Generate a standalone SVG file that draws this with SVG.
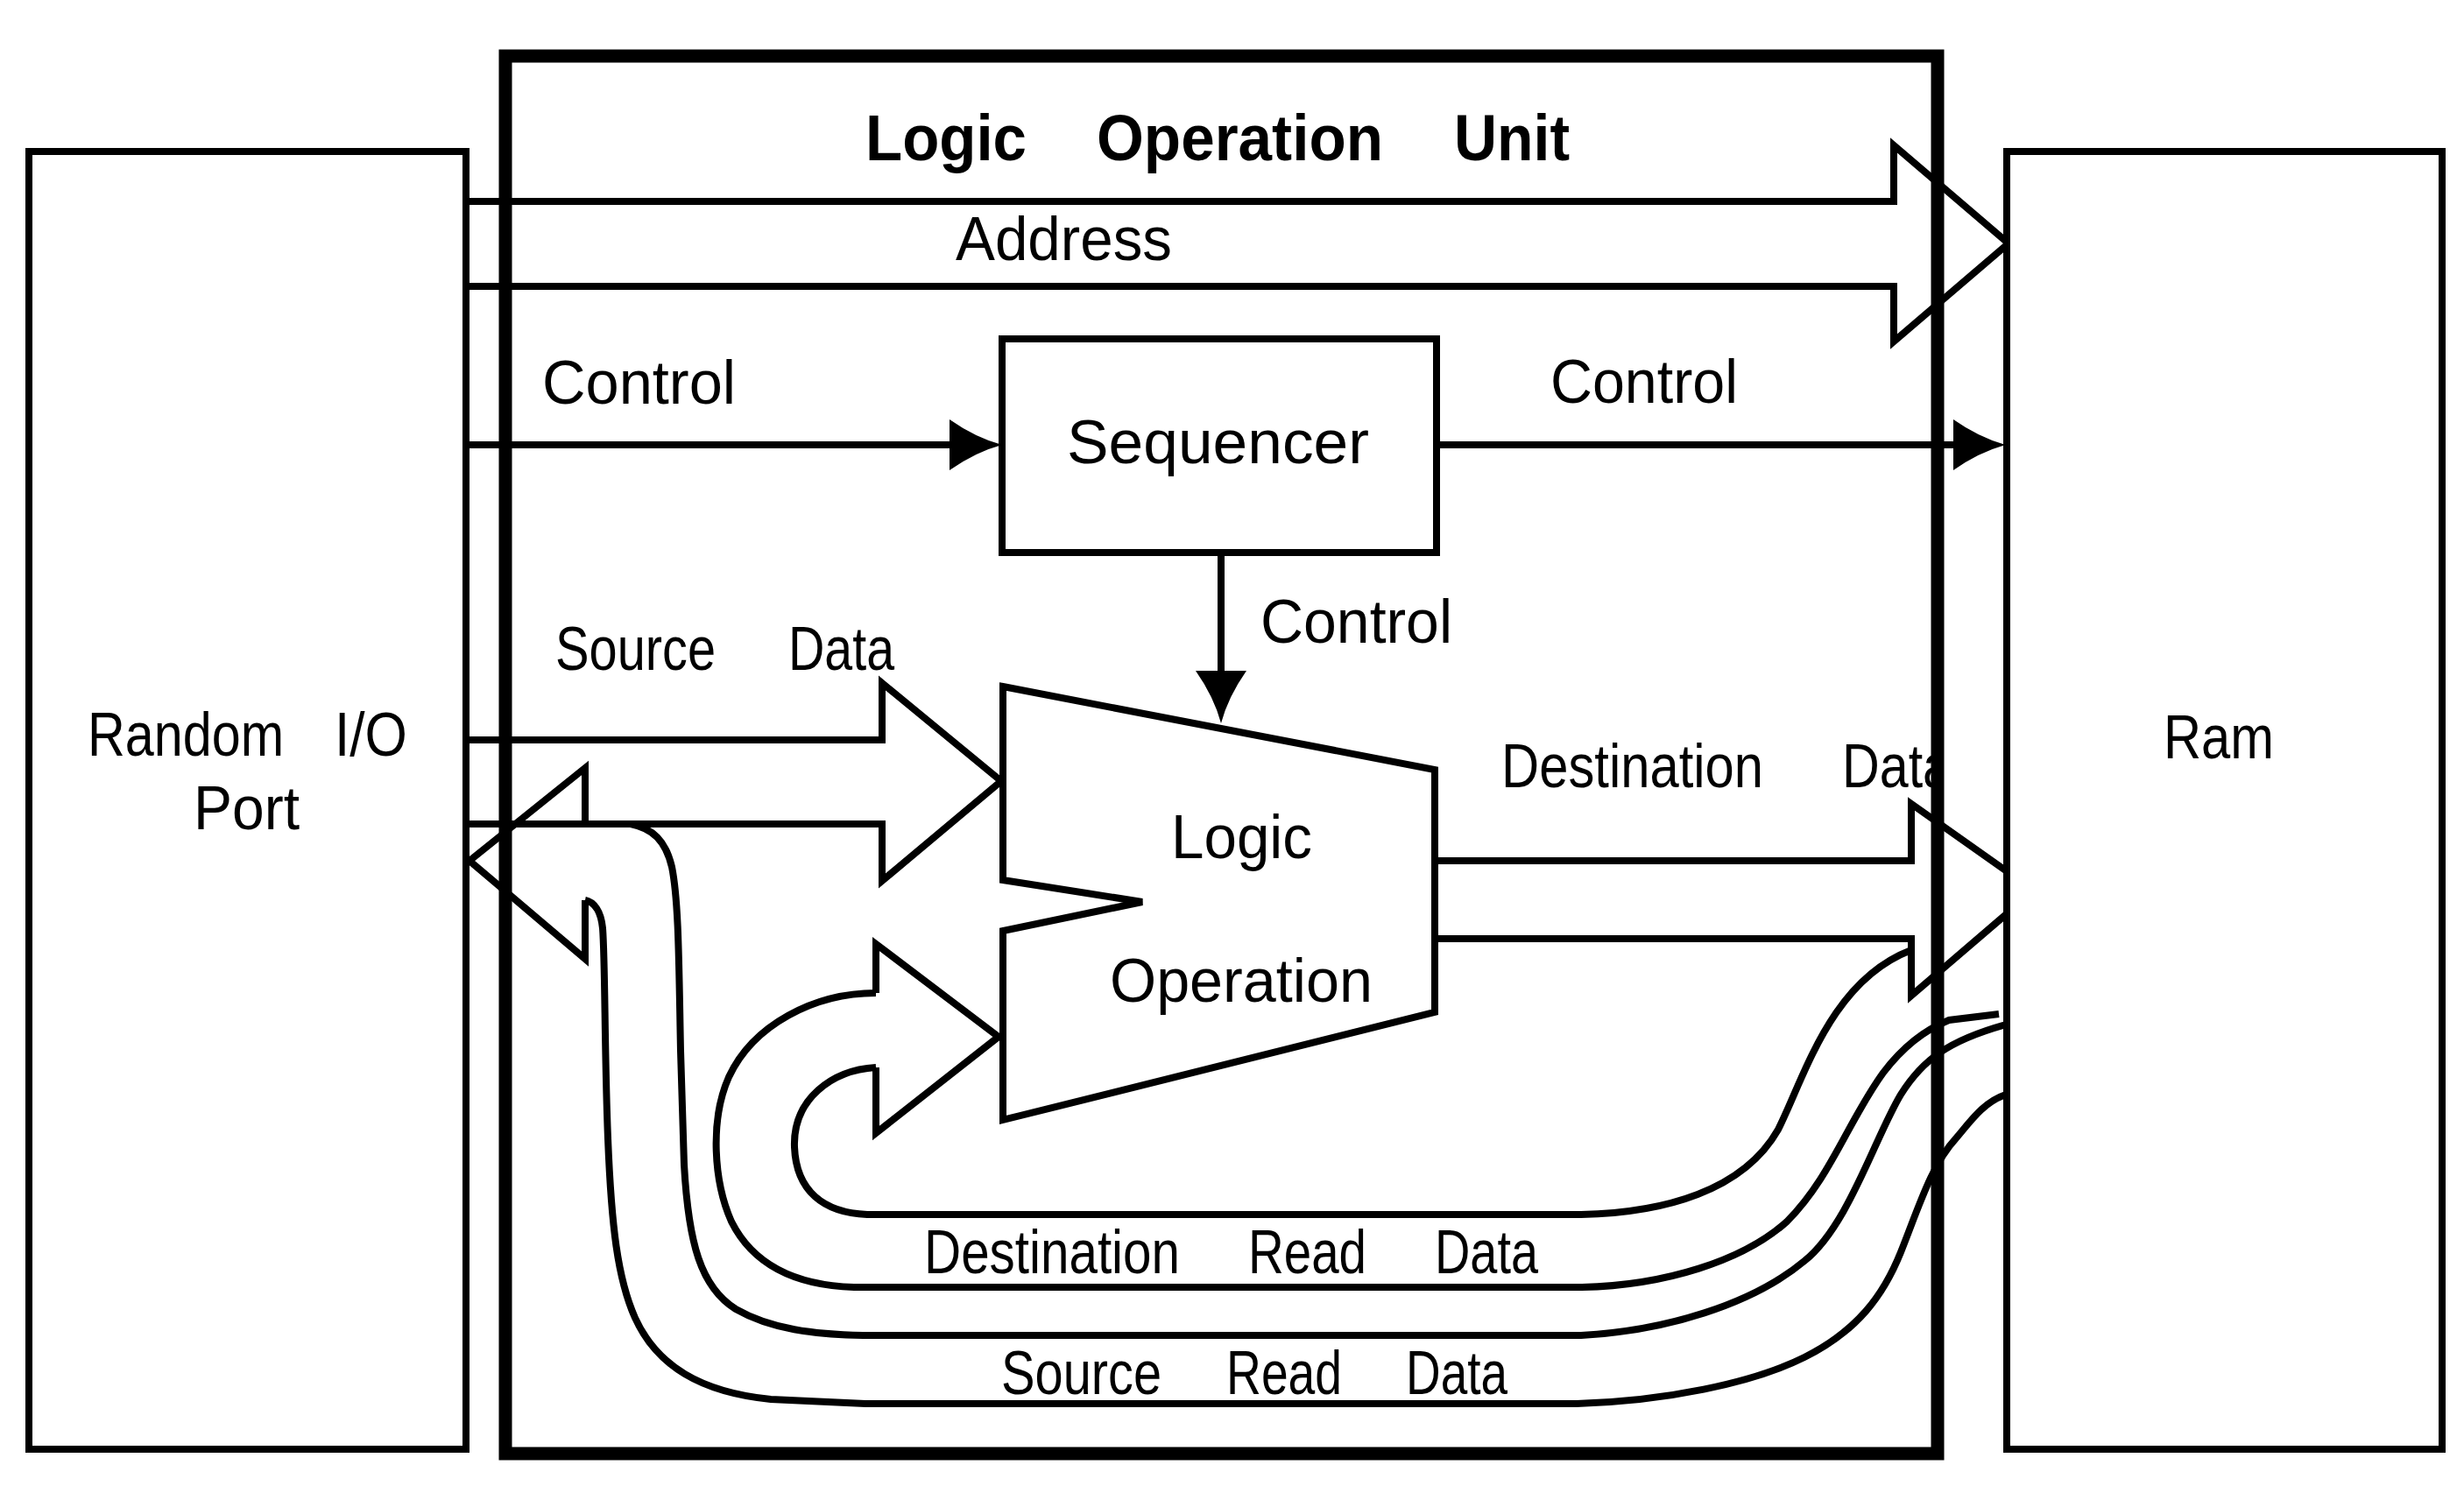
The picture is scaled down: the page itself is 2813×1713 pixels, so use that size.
<svg xmlns="http://www.w3.org/2000/svg" width="2813" height="1713" viewBox="0 0 2813 1713">
<style>
.lbl{font-family:"Liberation Sans",Arial,Helvetica,sans-serif;font-size:70px;fill:#000}
.title{font-weight:bold;font-size:74px}
.ln{fill:none;stroke:#000;stroke-width:8;stroke-linejoin:miter;stroke-linecap:butt}
.box{fill:#fff;stroke:#000;stroke-width:8}
.lou{fill:none;stroke:#000;stroke-width:15}
</style>
<defs>
<marker id="tri" viewBox="0 0 60 58" refX="0" refY="29" markerWidth="60" markerHeight="58" markerUnits="userSpaceOnUse" orient="auto">
<path d="M0,0 Q30,21 60,29 Q30,37 0,58 Z" fill="#000"/>
</marker>
<clipPath id="louclip"><rect x="0" y="0" width="2207" height="1713"/></clipPath>
</defs>
<rect x="0" y="0" width="2813" height="1713" fill="#fff"/>

<g id="logic-operation-unit">
<rect class="lou" x="577" y="64" width="1635" height="1596"/>
<text class="lbl title" y="183"><tspan x="988" textLength="184" lengthAdjust="spacingAndGlyphs">Logic</tspan><tspan x="1252" textLength="327" lengthAdjust="spacingAndGlyphs">Operation</tspan><tspan x="1660" textLength="132" lengthAdjust="spacingAndGlyphs">Unit</tspan></text>
</g>

<g id="random-io-port">
<rect class="box" x="33" y="173" width="499" height="1482"/>
<text class="lbl" font-size="68" y="863"><tspan x="100" textLength="224" lengthAdjust="spacingAndGlyphs">Random</tspan><tspan x="382" textLength="83" lengthAdjust="spacingAndGlyphs">I/O</tspan></text>
<text class="lbl" font-size="68" x="221" y="947" textLength="121" lengthAdjust="spacingAndGlyphs">Port</text>
</g>

<g id="connectors">
<!-- Address bus -->
<polyline class="ln" points="532,230 2162,230 2162,166 2293,278 2162,390 2162,327 532,327"/>
<text class="lbl" font-size="68" x="1091" y="297" textLength="247" lengthAdjust="spacingAndGlyphs">Address</text>
<!-- Control in -->
<line class="ln" x1="532" y1="508" x2="1084" y2="508" marker-end="url(#tri)"/>
<text class="lbl" font-size="72" x="619" y="461" textLength="221" lengthAdjust="spacingAndGlyphs">Control</text>
<!-- Control out -->
<line class="ln" x1="1640" y1="508" x2="2230" y2="508" marker-end="url(#tri)"/>
<text class="lbl" font-size="72" x="1770" y="460" textLength="214" lengthAdjust="spacingAndGlyphs">Control</text>
<!-- Control down -->
<line class="ln" x1="1394" y1="631" x2="1394" y2="766" marker-end="url(#tri)"/>
<text class="lbl" font-size="72" x="1439" y="734" textLength="219" lengthAdjust="spacingAndGlyphs">Control</text>
<!-- Source data -->
<polyline class="ln" points="532,845 1007,845 1007,780 1143,892 1007,1006 1007,941 532,941"/>
<text class="lbl" font-size="66" y="765"><tspan x="634" textLength="183" lengthAdjust="spacingAndGlyphs">Source</tspan><tspan x="900" textLength="121" lengthAdjust="spacingAndGlyphs">Data</tspan></text>
<!-- Destination data out -->
<polyline class="ln" points="1640,983 2182,983 2182,918 2322,1017 2182,1137 2182,1072 1640,1072"/>
<text class="lbl" font-size="70" y="899" clip-path="url(#louclip)"><tspan x="1714" textLength="299" lengthAdjust="spacingAndGlyphs">Destination</tspan><tspan x="2103" textLength="125" lengthAdjust="spacingAndGlyphs">Data</tspan></text>
<!-- Lower input arrow head -->
<polyline class="ln" points="1000,1134 1000,1078 1140,1184 1000,1294 1000,1219"/>
<!-- Return arrow head to I/O port -->
<polyline class="ln" points="668,941 668,877 536,983 668,1095 668,1028"/>
<!-- Destination read data, inner -->
<path class="ln" d="M1000,1219 C950,1222 905,1255 907,1310 C909,1360 940,1385 990,1387 L1805,1387 C1900,1385 1990,1360 2030,1290 C2060,1230 2090,1120 2182,1085"/>
<!-- Destination read data, outer -->
<path class="ln" d="M1000,1134 C930,1134 860,1170 832,1230 C810,1280 815,1350 835,1395 C860,1445 910,1468 975,1470 L1806,1470 C1900,1468 1990,1440 2040,1395 C2090,1345 2110,1280 2150,1225 C2175,1192 2200,1175 2225,1165 L2282,1158"/>
<text class="lbl" font-size="70" y="1454"><tspan x="1055" textLength="292" lengthAdjust="spacingAndGlyphs">Destination</tspan><tspan x="1425" textLength="135" lengthAdjust="spacingAndGlyphs">Read</tspan><tspan x="1638" textLength="118" lengthAdjust="spacingAndGlyphs">Data</tspan></text>
<!-- Source read data, inner -->
<path class="ln" d="M720,941 C745,946 760,960 767,990 C775,1030 775,1100 777,1200 L781,1330 C786,1420 800,1470 840,1495 C880,1518 930,1524 985,1525 L1805,1525 C1900,1520 2000,1490 2060,1440 C2110,1400 2140,1300 2170,1250 C2195,1210 2225,1188 2290,1170"/>
<!-- Source read data, outer -->
<path class="ln" d="M668,1028 C678,1030 686,1040 688,1060 C691,1100 690,1200 694,1300 C698,1400 705,1460 725,1505 C750,1560 800,1590 880,1598 L988,1603 L1800,1603 C1900,1600 2000,1580 2060,1550 C2120,1520 2150,1480 2170,1430 C2190,1380 2205,1330 2233,1300 C2250,1280 2265,1258 2290,1250"/>
<text class="lbl" font-size="71" y="1592"><tspan x="1143" textLength="183" lengthAdjust="spacingAndGlyphs">Source</tspan><tspan x="1400" textLength="132" lengthAdjust="spacingAndGlyphs">Read</tspan><tspan x="1605" textLength="116" lengthAdjust="spacingAndGlyphs">Data</tspan></text>
</g>

<g id="sequencer">
<rect class="box" x="1144" y="387" width="496" height="244"/>
<text class="lbl" font-size="76" x="1218" y="529" textLength="345" lengthAdjust="spacingAndGlyphs">Sequencer</text>
</g>

<g id="logic-operation">
<polygon class="box" stroke-width="9" points="1145,784 1638,879 1638,1156 1145,1279 1145,1063 1304,1030 1145,1005"/>
<text class="lbl" font-size="68" x="1337" y="980" textLength="161" lengthAdjust="spacingAndGlyphs">Logic</text>
<text class="lbl" font-size="68" x="1267" y="1144" textLength="300" lengthAdjust="spacingAndGlyphs">Operation</text>
</g>

<g id="ram">
<rect class="box" x="2291" y="173" width="497" height="1482"/>
<text class="lbl" font-size="72" x="2470" y="866" textLength="126" lengthAdjust="spacingAndGlyphs">Ram</text>
</g>
</svg>
